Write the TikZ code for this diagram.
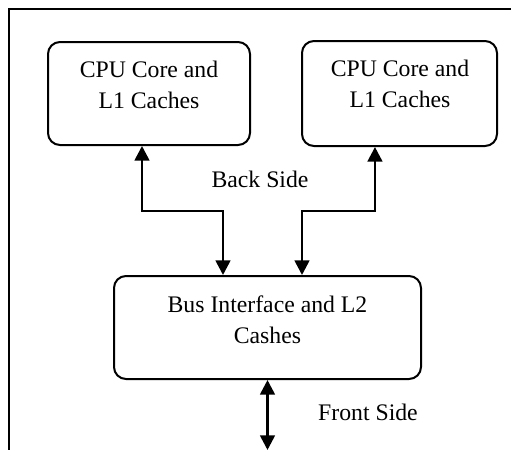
\documentclass[tikz,border=0pt]{standalone}
\usepackage{fontspec}
\setmainfont{Liberation Serif}
\usetikzlibrary{arrows.meta}
\tikzset{
  box/.style={draw, line width=1.5pt, rounded corners=9pt, inner sep=0pt},
  txt/.style={font=\fontsize{17.8}{23.25}\selectfont, align=center, inner sep=0pt},
  conn/.style={line width=2pt, {Triangle[width=11pt,length=11pt]}-{Triangle[width=11pt,length=11pt]}},
  frame/.style={line width=1.6pt}
}
\begin{document}
\begin{tikzpicture}[x=0.75pt,y=-0.75pt]
\useasboundingbox (0,0) rectangle (511,450);
% frame
\coordinate (fbl) at (9,452);
\coordinate (ftl) at (9,9);
\coordinate (ftr) at (513,9);
\draw[frame] (fbl) -- (ftl) -- (ftr);
% boxes
\node[box, minimum width=151.5pt, minimum height=77.25pt] (b1) at (149,93.5) {};
\node[box, minimum width=146.25pt, minimum height=78.75pt] (b2) at (399.5,93.5) {};
\node[box, minimum width=230.25pt, minimum height=77.25pt] (b3) at (267.5,327.5) {};
% texts
\node[txt] (t1) at (149,84.5) {CPU Core and\\L1 Caches};
\node[txt] (t2) at (400,84) {CPU Core and\\L1 Caches};
\node[txt] (t3) at (267.5,319.5) {Bus Interface and L2\\Cashes};
\node[txt, anchor=base] (back) at (260,187.3) {Back Side};
\node[txt, anchor=base] (front) at (368,420.7) {Front Side};
% connectors
\coordinate (m1) at (223,211);
\coordinate (m2) at (302,211);
\coordinate (fs) at (267.5,450);
\draw[conn] ([xshift=-5.25pt]b1.south) |- (m1) -- (m1 |- b3.north);
\draw[conn] ([xshift=-18.4pt]b2.south) |- (m2) -- (m2 |- b3.north);
\draw[conn] (b3.south) -- (fs);
\end{tikzpicture}
\end{document}
